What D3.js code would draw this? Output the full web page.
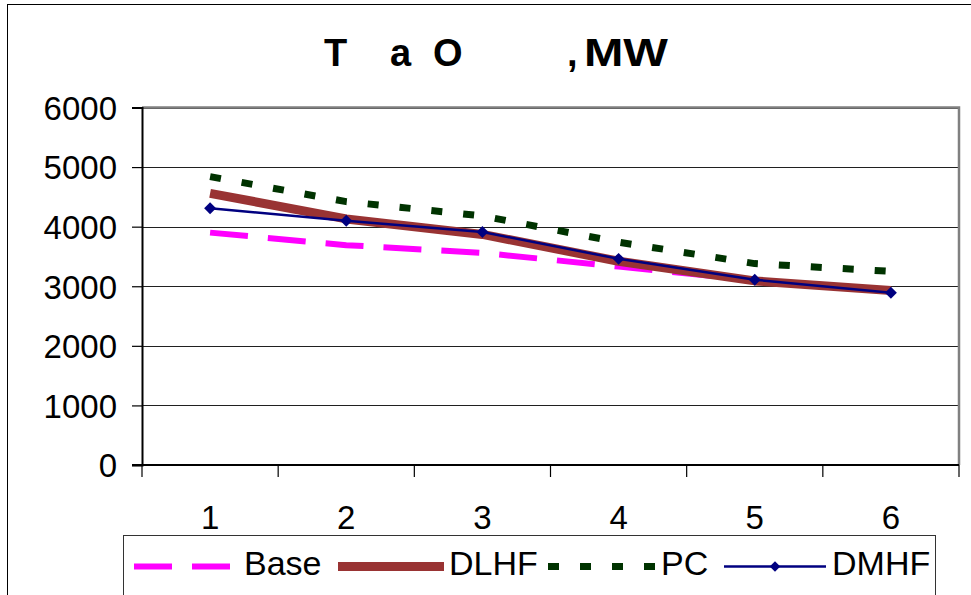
<!DOCTYPE html>
<html>
<head>
<meta charset="utf-8">
<script src="https://cdn.jsdelivr.net/npm/d3@7/dist/d3.min.js"></script>
<style>
  html, body { margin: 0; padding: 0; background: #fff; }
  svg { display: block; font-family: "Liberation Sans", Arial, sans-serif; }
</style>
</head>
<body>
<svg id="chart" width="971" height="595"></svg>
<script>
// ---- data ----
const categories = ["1", "2", "3", "4", "5", "6"];
const baseValues = [3900, 3690, 3560, 3330, 3100, 2920];
const dlhfValues = [4560, 4130, 3870, 3420, 3090, 2930];
const pcValues   = [4840, 4420, 4180, 3740, 3380, 3250];
const dmhfValues = [4310, 4100, 3910, 3460, 3110, 2890];
const yTicks = [0, 1000, 2000, 3000, 4000, 5000, 6000];
const seriesNames = ["Base", "DLHF", "PC", "DMHF"];
const titleParts = ["T", "a", "O", ",", "MW"];

const svg = d3.select("#chart");
const L = 142, R = 959, T = 107.5, B = 465;

const x = d3.scaleBand().domain(categories).range([L, R]).padding(0);
const y = d3.scaleLinear().domain([0, 6000]).range([B, T]);
const cx = c => x(c) + x.bandwidth() / 2;

// outer border
svg.append("rect").attr("x", 7.5).attr("y", 4.5).attr("width", 1000).attr("height", 1000)
  .attr("fill", "none").attr("stroke", "#000").attr("stroke-width", 1);

// title
const titleX = [324, 390, 433, 567, 584];
const title = svg.append("text").attr("y", 66).attr("font-size", 38).attr("font-weight", "bold").attr("fill", "#000");
titleParts.forEach((p, i) => {
  const ts = title.append("tspan").attr("x", titleX[i]).text(p);
  if (p === "MW") ts.attr("textLength", 84).attr("lengthAdjust", "spacingAndGlyphs");
});

// gridlines
svg.append("g").selectAll("line").data(yTicks.filter(v => v > 0)).join("line")
  .attr("x1", L).attr("x2", R).attr("y1", d => Math.round(y(d)) + 0.5).attr("y2", d => Math.round(y(d)) + 0.5)
  .attr("stroke", "#202020").attr("stroke-width", 1.2);

// plot border top/right (gray)
svg.append("path").attr("d", `M${L},${y(6000)}H${R}V${B}`)
  .attr("fill", "none").attr("stroke", "#808080").attr("stroke-width", 2.5);

// y axis
const yAxis = d3.axisLeft(y).tickValues(yTicks).tickSize(10).tickPadding(15).tickFormat(d3.format("d"));
const gy = svg.append("g").attr("transform", `translate(${L},0)`).call(yAxis);
gy.select(".domain").attr("stroke", "#000").attr("stroke-width", 2);
gy.selectAll(".tick line").attr("stroke", "#000").attr("stroke-width", 1.2);
gy.selectAll(".tick text").attr("font-size", 33).attr("fill", "#000")
  .attr("font-family", "Liberation Sans, Arial, sans-serif").attr("dy", "0.36em");

// x axis line and ticks at category boundaries
svg.append("line").attr("x1", L - 10).attr("x2", R).attr("y1", B).attr("y2", B)
  .attr("stroke", "#000").attr("stroke-width", 2);
const bounds = categories.map(c => x(c)).concat([x(categories[categories.length - 1]) + x.bandwidth()]);
svg.append("g").selectAll("line").data(bounds).join("line")
  .attr("x1", d => d).attr("x2", d => d).attr("y1", B).attr("y2", B + 12)
  .attr("stroke", "#000").attr("stroke-width", 1.2);
svg.append("g").selectAll("text").data(categories).join("text")
  .attr("x", d => cx(d)).attr("y", 529).attr("text-anchor", "middle")
  .attr("font-size", 33).attr("fill", "#000").text(d => d);

// series
const line = d3.line().x((d, i) => cx(categories[i])).y(d => y(d));
const styles = [
  { name: seriesNames[0], vals: baseValues, color: "#FF00FF", width: 6, dash: "38,20" },
  { name: seriesNames[1], vals: dlhfValues, color: "#993333", width: 9, dash: null },
  { name: seriesNames[2], vals: pcValues,   color: "#003300", width: 7, dash: "11,21" },
  { name: seriesNames[3], vals: dmhfValues, color: "#000080", width: 2.5, dash: null, marker: true }
];
styles.forEach(s => {
  const p = svg.append("path").datum(s.vals).attr("d", line).attr("fill", "none")
    .attr("stroke", s.color).attr("stroke-width", s.width).attr("stroke-linejoin", "round");
  if (s.dash) p.attr("stroke-dasharray", s.dash);
  if (s.marker) {
    svg.append("g").selectAll("path").data(s.vals).join("path")
      .attr("d", d3.symbol(d3.symbolDiamond2 || d3.symbolDiamond, 90))
      .attr("transform", (d, i) => `translate(${cx(categories[i])},${y(d)})`)
      .attr("fill", s.color);
  }
});

// legend
svg.append("rect").attr("x", 123.5).attr("y", 535.5).attr("width", 812).attr("height", 100)
  .attr("fill", "#fff").attr("stroke", "#333").attr("stroke-width", 1);
const legSym = [[134, 230], [338, 444], [548, 656], [724, 826]];
const legText = [244, 449, 661, 832];
styles.forEach((s, i) => {
  const ly = 566.5;
  const l = svg.append("line").attr("x1", legSym[i][0]).attr("x2", legSym[i][1]).attr("y1", ly).attr("y2", ly)
    .attr("stroke", s.color).attr("stroke-width", s.width);
  if (s.dash) l.attr("stroke-dasharray", s.dash);
  if (s.marker) {
    svg.append("path").attr("d", d3.symbol(d3.symbolDiamond2 || d3.symbolDiamond, 70))
      .attr("transform", `translate(${(legSym[i][0] + legSym[i][1]) / 2},${ly})`).attr("fill", s.color);
  }
  svg.append("text").attr("x", legText[i]).attr("y", 575).attr("font-size", 34).attr("fill", "#000").text(s.name);
});
</script>
</body>
</html>
